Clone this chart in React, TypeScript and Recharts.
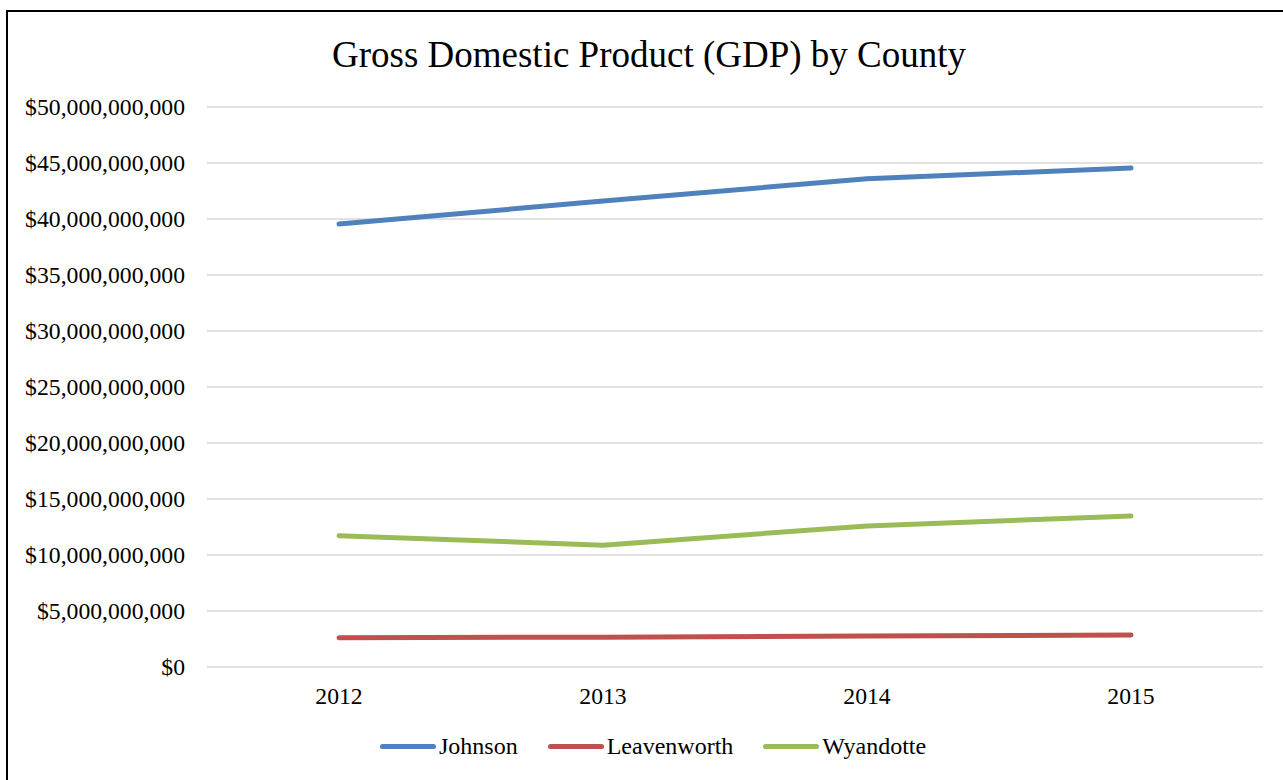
import React from "react";
import { LineChart, Line, XAxis, YAxis, CartesianGrid } from "recharts";

const years = ["2012", "2013", "2014", "2015"];
const johnson = [39.55e9, 41.6e9, 43.6e9, 44.55e9];
const leavenworth = [2.62e9, 2.66e9, 2.76e9, 2.86e9];
const wyandotte = [11.72e9, 10.88e9, 12.59e9, 13.48e9];
const yTicks = [0, 5e9, 10e9, 15e9, 20e9, 25e9, 30e9, 35e9, 40e9, 45e9, 50e9];

const seriesList = [
  { key: "Johnson", color: "#4F81BD" },
  { key: "Leavenworth", color: "#C0504D" },
  { key: "Wyandotte", color: "#9BBB59" },
];

const data = years.map((year, i) => ({
  year,
  Johnson: johnson[i],
  Leavenworth: leavenworth[i],
  Wyandotte: wyandotte[i],
}));

const FONT = '"Liberation Serif", "Times New Roman", serif';

const money = (v: number) => "$" + v.toLocaleString("en-US");

function YTick(props: any) {
  const { x, y, payload } = props;
  return (
    <text x={x} y={y} dy="0.355em" textAnchor="end" fontFamily={FONT} fontSize={23.7} fill="#000">
      {money(payload.value)}
    </text>
  );
}

function XTick(props: any) {
  const { x, y, payload } = props;
  return (
    <text x={x} y={y} dy="0.71em" textAnchor="middle" fontFamily={FONT} fontSize={23.7} fill="#000">
      {payload.value}
    </text>
  );
}

function LegendRow() {
  return (
    <div style={{ display: "flex", alignItems: "center", fontFamily: FONT, fontSize: 24, color: "#000", lineHeight: "28px" }}>
      {seriesList.map((s, i) => (
        <div key={s.key} style={{ display: "flex", alignItems: "center", marginLeft: i === 0 ? 0 : 30 }}>
          <span
            style={{
              display: "inline-block",
              width: 56,
              height: 5,
              borderRadius: 3,
              background: s.color,
              marginRight: 3,
            }}
          />
          <span>{s.key}</span>
        </div>
      ))}
    </div>
  );
}

export default function App() {
  return (
    <div style={{ position: "absolute", left: 0, top: 0, width: 1283, height: 780, overflow: "hidden", background: "#fff" }}>
      <div
        style={{
          position: "absolute",
          left: 6,
          top: 10,
          width: 1290,
          height: 800,
          borderTop: "2.5px solid #000",
          borderLeft: "2.5px solid #000",
          boxSizing: "border-box",
        }}
      />
      <div
        style={{
          position: "absolute",
          left: 0,
          width: 1298,
          top: 33,
          textAlign: "center",
          fontFamily: FONT,
          fontSize: 37,
          color: "#000",
          lineHeight: "44px",
        }}
      >
        Gross Domestic Product (GDP) by County
      </div>
      <div style={{ position: "absolute", left: 0, top: 0 }}>
        <LineChart width={1283} height={780} data={data} margin={{ top: 107, right: 20, bottom: 83, left: 0 }}>
          <CartesianGrid horizontal vertical={false} stroke="#d9d9d9" strokeWidth={1.5} />
          <XAxis
            dataKey="year"
            height={30}
            axisLine={false}
            tickLine={false}
            tickSize={0}
            tickMargin={20}
            padding={{ left: 132, right: 132 }}
            tick={<XTick />}
          />
          <YAxis
            width={207}
            domain={[0, 50e9]}
            ticks={yTicks}
            interval={0}
            axisLine={false}
            tickLine={false}
            tickSize={0}
            tickMargin={22}
            tick={<YTick />}
          />
          {seriesList.map((s) => (
            <Line
              key={s.key}
              type="linear"
              dataKey={s.key}
              stroke={s.color}
              strokeWidth={5}
              strokeLinecap="round"
              dot={false}
              activeDot={false}
              isAnimationActive={false}
            />
          ))}
        </LineChart>
      </div>
      <div style={{ position: "absolute", left: 380, top: 732 }}>
        <LegendRow />
      </div>
    </div>
  );
}
